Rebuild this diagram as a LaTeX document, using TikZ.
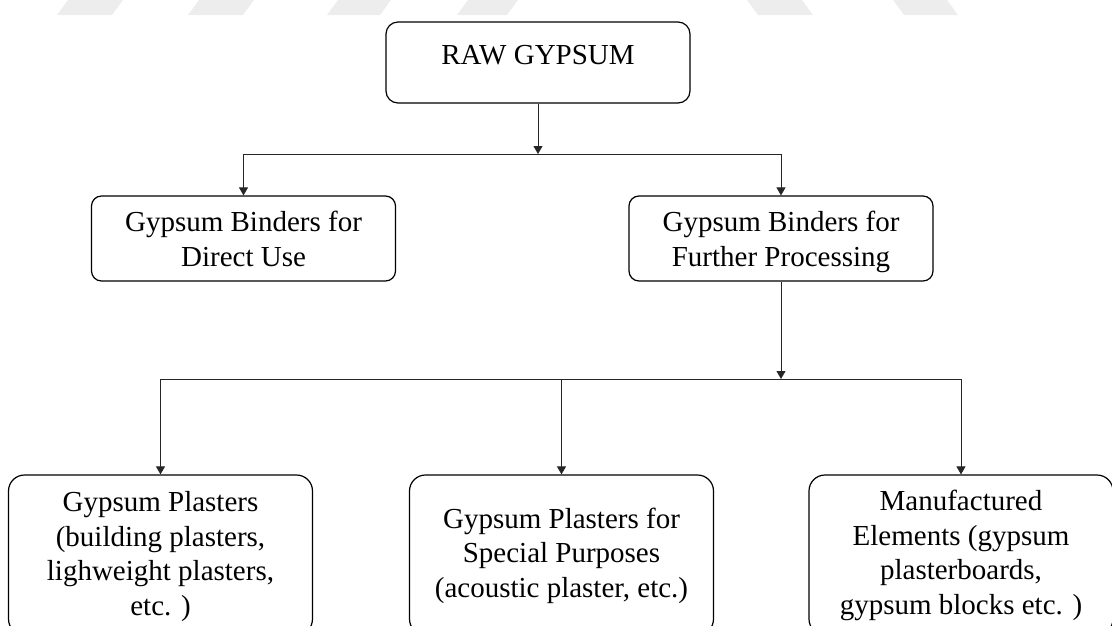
\documentclass[tikz,border=0pt]{standalone}
\usepackage{fontspec}
\setmainfont{Liberation Serif}
\usetikzlibrary{arrows.meta}

% fixed line strut: every text block gets the same top and bottom extent
\newcommand{\lnstrut}{\rule[-7pt]{0pt}{27pt}}

\tikzset{
  box/.style={draw=black, line width=1.2pt, fill=white, inner sep=0pt},
  topbox/.style={box, rounded corners=12pt, minimum width=304pt, minimum height=81pt},
  midbox/.style={box, rounded corners=10pt, minimum width=304pt, minimum height=85pt},
  lowbox/.style={box, rounded corners=16pt, minimum width=304pt, minimum height=160pt},
  txt/.style={align=center, inner sep=0pt, font=\fontsize{29}{34.5}\selectfont},
  link/.style={draw=black!85, line width=0.9pt},
  arr/.style={link, -{Triangle[length=8pt,width=9pt]}},
  stripe/.style={fill=black!7, draw=none}
}

\begin{document}
\begin{tikzpicture}[x=1pt, y=-1pt]
  \useasboundingbox (0,0) rectangle (1112,625);
  \clip (0,0) rectangle (1112,625);

  % faint diagonal stripes along the top edge
  \foreach \a/\b in {68/123, 199/254, 338/391, 468/518}
    \fill[stripe] (\a,0) -- (\b,0) -- (\b-11,15) -- (\a-11,15) -- cycle;
  \foreach \a/\b in {747/802, 893/947}
    \fill[stripe] (\a,0) -- (\b,0) -- (\b+11,15) -- (\a+11,15) -- cycle;

  % boxes
  \node[topbox] (raw) at (538,62.5) {};
  \node[midbox] (direct) at (243.5,238.5) {};
  \node[midbox] (further) at (781,238.5) {};
  \node[lowbox] (plasters) at (160.5,555) {};
  \node[lowbox] (special) at (561.5,555) {};
  \node[lowbox] (elements) at (961,555) {};

  % box texts
  \node[txt] (raw-t) at (538,57.8) {\lnstrut RAW GYPSUM\lnstrut};
  \node[txt] (direct-t) at (243.5,242.5) {\lnstrut Gypsum Binders for\\Direct Use\lnstrut};
  \node[txt] (further-t) at (781,242.5) {\lnstrut Gypsum Binders for\\Further Processing\lnstrut};
  \node[txt] (plasters-t) at (160.5,557) {\lnstrut Gypsum Plasters\\(building plasters,\\lighweight plasters,\\etc. )\lnstrut};
  \node[txt] (special-t) at (561.5,556) {\lnstrut Gypsum Plasters for\\Special Purposes\\(acoustic plaster, etc.)\lnstrut};
  \node[txt] (elements-t) at (961,556) {\lnstrut Manufactured\\Elements (gypsum\\plasterboards,\\gypsum blocks etc. )\lnstrut};

  % junction points
  \coordinate (j1) at (538,154);
  \coordinate (j1l) at (direct.north |- j1);
  \coordinate (j1r) at (further.north |- j1);
  \coordinate (j2) at (further.south |- 0,379);
  \coordinate (j2l) at (plasters.north |- j2);
  \coordinate (j2m) at (special.north |- j2);
  \coordinate (j2r) at (elements.north |- j2);

  % connectors
  \draw[arr] (raw.south) -- (j1);
  \draw[link] (j1l) -- (j1r);
  \draw[arr] (j1l) -- (direct.north);
  \draw[arr] (j1r) -- (further.north);

  \draw[arr] (further.south) -- (j2);
  \draw[link] (j2l) -- (j2r);
  \draw[arr] (j2l) -- (plasters.north);
  \draw[arr] (j2m) -- (special.north);
  \draw[arr] (j2r) -- (elements.north);
\end{tikzpicture}
\end{document}
